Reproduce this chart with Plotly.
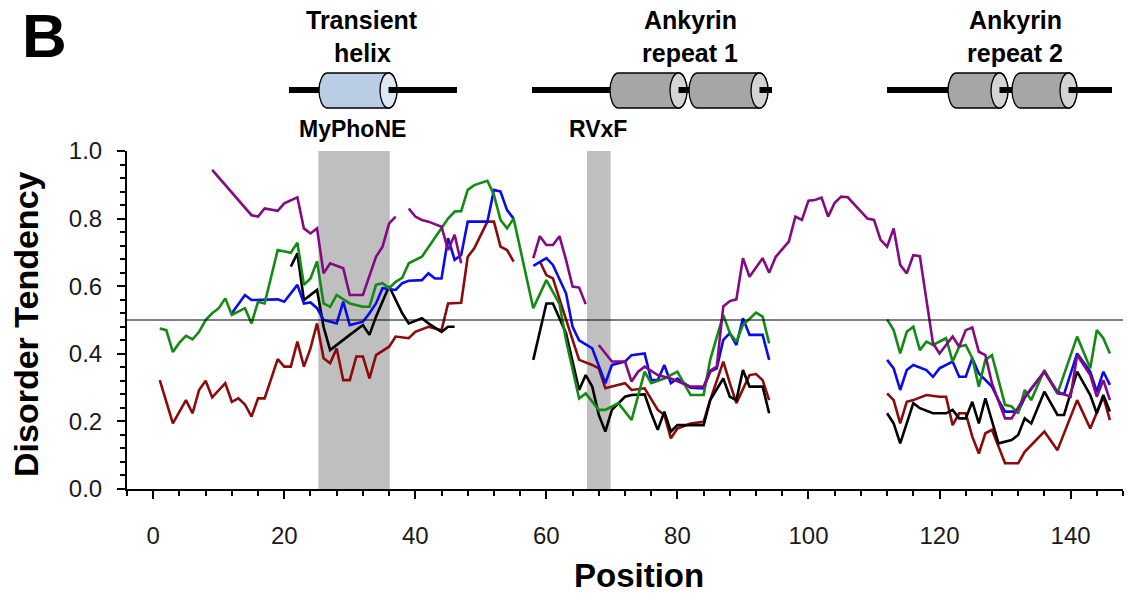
import plotly.graph_objects as go

# ---------------- data (position, disorder tendency), segments separated by gaps -------------
purple_pos = [
    [9, 15, 16, 17, 19, 20, 22, 23, 24, 25, 26, 27, 29, 30, 32, 34, 35, 36, 37],
    [39, 40, 41, 42, 44, 45, 46, 47],
    [58, 59, 60, 61, 62, 63, 64, 65, 66],
    [68, 70, 72, 73, 74, 75, 77, 79, 82, 84, 85, 86, 87, 88, 89, 90, 91, 93, 94, 95,
     97, 98, 99, 100, 101, 102, 103, 104, 105, 106, 109, 110, 111, 112, 113, 114, 115, 116, 117, 119,
     120, 122, 123, 124, 125, 126, 127, 128, 129, 130, 131, 133, 136, 138, 140, 141, 143, 144, 145, 146],
]
purple_val = [
    [.944, .81, .806, .83, .823, .845, .863, .771, .756, .771, .638, .668, .653, .574, .574, .687, .717, .786, .806],
    [.83, .806, .796, .791, .776, .707, .752, .668],
    [.683, .748, .722, .722, .748, .678, .599, .596, .547],
    [.426, .377, .377, .318, .347, .362, .337, .327, .303, .303, .35, .362, .54, .556, .561, .683, .628, .683, .64, .687,
     .732, .806, .796, .853, .855, .862, .806, .847, .865, .863, .8, .796, .737, .717, .771, .663, .638, .692, .689, .431,
     .401, .451, .421, .47, .478, .406, .396, .313, .26, .209, .209, .273, .347, .288, .273, .396, .337, .273, .322, .263],
]

green_pos = [
    [1, 2, 3, 4, 5, 6, 7, 8, 9, 10, 11, 12, 14, 15, 16, 17, 19, 21, 22, 23,
     24, 25, 26, 27, 28, 30, 32, 33, 34, 35, 36, 37, 38, 39, 41, 43, 45, 46, 47, 48,
     49, 51, 52, 53, 54, 55, 58, 60, 62, 63, 65, 66, 68, 69, 71, 73, 75, 76, 77, 78,
     80, 82, 84, 85, 87, 88, 89, 90, 92, 93, 94],
    [112, 113, 114, 115, 116, 117, 118, 119, 121, 122, 123, 124, 125, 126, 127, 128, 130, 131, 132, 133,
     134, 136, 138, 141, 143, 144, 145, 146],
]
green_val = [
    [.475, .47, .405, .433, .453, .443, .465, .5, .52, .535, .564, .515, .535, .49, .554, .549, .707, .699, .729, .604,
     .623, .673, .549, .539, .574, .549, .539, .539, .604, .609, .594, .613, .625, .668, .687, .742, .8, .821, .822, .885,
     .899, .912, .87, .796, .771, .8, .535, .618, .548, .44, .268, .283, .234, .234, .254, .204, .347, .313, .32, .327,
     .347, .278, .278, .382, .515, .461, .436, .485, .522, .51, .431],
    [.502, .47, .401, .465, .48, .411, .436, .426, .446, .377, .421, .426, .387, .303, .382, .396, .249, .244, .224, .293,
     .263, .352, .283, .451, .357, .47, .446, .401],
]

blue_pos = [
    [12, 14, 15, 17, 19, 20, 22, 23, 24, 25, 26, 28, 29, 30, 32, 33, 34, 35, 37, 38,
     39, 41, 42, 43, 44, 45, 46, 47, 48, 51, 52, 53, 54, 55],
    [58, 60, 61, 62, 63, 64, 65, 67, 68, 69, 70, 72, 73, 75, 76, 77, 78, 79, 80, 82,
     84, 85, 86, 87, 88, 89, 90, 91, 93, 94],
    [112, 113, 114, 115, 116, 118, 119, 120, 122, 123, 124, 125, 126, 128, 129, 130, 132, 133, 136, 138,
     139, 141, 143, 144, 145, 146],
]
blue_val = [
    [.52, .574, .559, .559, .561, .554, .604, .549, .552, .535, .5, .49, .554, .485, .495, .52, .549, .594, .589, .609,
     .616, .618, .638, .623, .623, .742, .678, .692, .791, .791, .885, .88, .825, .8],
    [.66, .683, .663, .623, .579, .48, .44, .416, .367, .313, .367, .377, .396, .401, .322, .322, .367, .313, .327, .3,
     .298, .347, .357, .441, .461, .426, .505, .456, .456, .382],
    [.382, .357, .293, .352, .367, .352, .332, .357, .377, .332, .332, .387, .342, .303, .263, .229, .229, .27, .347, .283,
     .28, .401, .347, .288, .347, .308],
]

black_pos = [
    [21, 22, 23, 24, 25, 26, 27, 30, 32, 33, 34, 36, 37, 38, 39, 41, 42, 44, 45, 46],
    [58, 60, 61, 63, 65, 66, 67, 68, 69, 70, 72, 73, 75, 76, 77, 78, 79, 80, 84, 85,
     87, 88, 89, 90, 91, 93, 94],
    [112, 113, 114, 116, 117, 119, 121, 122, 123, 124, 125, 126, 127, 128, 129, 131, 132, 133, 134, 136,
     138, 139, 141, 143, 144, 145, 146],
]
black_val = [
    [.658, .697, .559, .574, .589, .48, .411, .456, .485, .456, .51, .6, .56, .52, .49, .505, .49, .465, .48, .48],
    [.382, .549, .549, .461, .293, .337, .303, .219, .17, .234, .273, .278, .28, .224, .175, .229, .17, .189, .189, .263,
     .327, .273, .263, .352, .303, .303, .224],
    [.224, .194, .135, .254, .239, .224, .224, .234, .209, .209, .258, .194, .268, .204, .135, .145, .16, .209, .194, .288,
     .219, .219, .347, .278, .224, .278, .229],
]

red_pos = [
    [1, 3, 5, 6, 7, 8, 9, 11, 12, 13, 14, 15, 16, 17, 19, 20, 21, 22, 23, 24,
     25, 26, 27, 28, 29, 30, 31, 32, 33, 34, 36, 37, 39, 40, 42, 44, 45, 47, 48, 49,
     51, 52, 53, 54, 55],
    [59, 60, 61, 62, 63, 64, 65, 67, 68, 69, 70, 72, 73, 75, 77, 78, 79, 80, 82, 84,
     85, 87, 88, 89, 91, 92, 93, 94],
    [112, 113, 114, 115, 116, 118, 120, 121, 122, 123, 124, 125, 126, 127, 128, 129, 130, 132, 133, 136,
     138, 141, 143, 145, 146],
]
red_val = [
    [.322, .194, .263, .224, .293, .32, .271, .313, .258, .268, .25, .214, .268, .268, .384, .362, .362, .436, .362, .416,
     .49, .387, .372, .416, .322, .322, .392, .392, .327, .396, .421, .451, .446, .465, .48, .47, .549, .551, .687, .712,
     .791, .791, .717, .707, .673],
    [.673, .633, .623, .56, .5, .441, .382, .367, .357, .298, .303, .313, .293, .298, .234, .219, .15, .179, .194, .199,
     .263, .377, .313, .254, .337, .34, .322, .263],
    [.283, .263, .194, .258, .263, .278, .273, .273, .189, .224, .224, .155, .105, .165, .175, .125, .076, .076, .11, .17,
     .115, .263, .179, .273, .204],
]

regions = [(25.2, 36.1), (66.2, 69.8)]           # shaded motif regions (MyPhoNE, RVxF)
threshold = 0.5
x_ticks = [0, 20, 40, 60, 80, 100, 120, 140]
y_ticks = [0.0, 0.2, 0.4, 0.6, 0.8, 1.0]

FONT = "Liberation Sans, Arial, Helvetica, sans-serif"

# ---------------- layout geometry (pixels) ----------------
W, H = 1133, 598
PL, PR, PT, PB = 127, 1123, 151, 489


def fx(px):
    return (px - PL) / (PR - PL)


def fy(py):
    return (PB - py) / (PB - PT)


def join(pos, val):
    xs, ys = [], []
    for p, v in zip(pos, val):
        assert len(p) == len(v), (len(p), len(v))
        if xs:
            xs.append(None)
            ys.append(None)
        xs.extend(p)
        ys.extend(v)
    return xs, ys


fig = go.Figure()

series = [
    (red_pos, red_val, "#8b0a0a"),
    (black_pos, black_val, "#000000"),
    (blue_pos, blue_val, "#0a0aee"),
    (green_pos, green_val, "#138a13"),
    (purple_pos, purple_val, "#840a84"),
]
for pos, val, col in series:
    xs, ys = join(pos, val)
    fig.add_trace(go.Scatter(x=xs, y=ys, mode="lines", connectgaps=False,
                             line=dict(color=col, width=2.6), hoverinfo="skip"))

shapes = []
for a, b in regions:
    shapes.append(dict(type="rect", xref="x", yref="paper", x0=a, x1=b, y0=0, y1=1,
                       fillcolor="#bfbfbf", line=dict(width=0), layer="below"))
shapes.append(dict(type="line", xref="paper", yref="y", x0=0, x1=1, y0=threshold, y1=threshold,
                   line=dict(color="black", width=1.2)))

# ---------------- domain diagram (cylinders) ----------------
K = 0.5523


def cyl_paths(xl, xr, yt, yb, rx):
    yc = (yt + yb) / 2
    ry = (yb - yt) / 2
    cl = xl + rx
    cr = xr - rx
    P = lambda x, y: f"{fx(x):.5f},{fy(y):.5f}"
    body = (f"M {P(cl, yt)} L {P(cr, yt)} "
            f"C {P(cr + K*rx, yt)} {P(cr + rx, yc - K*ry)} {P(cr + rx, yc)} "
            f"C {P(cr + rx, yc + K*ry)} {P(cr + K*rx, yb)} {P(cr, yb)} "
            f"L {P(cl, yb)} "
            f"C {P(cl - K*rx, yb)} {P(cl - rx, yc + K*ry)} {P(cl - rx, yc)} "
            f"C {P(cl - rx, yc - K*ry)} {P(cl - K*rx, yt)} {P(cl, yt)} Z")
    face = (f"M {P(cr, yt)} "
            f"C {P(cr + K*rx, yt)} {P(cr + rx, yc - K*ry)} {P(cr + rx, yc)} "
            f"C {P(cr + rx, yc + K*ry)} {P(cr + K*rx, yb)} {P(cr, yb)} "
            f"C {P(cr - K*rx, yb)} {P(cr - rx, yc + K*ry)} {P(cr - rx, yc)} "
            f"C {P(cr - rx, yc - K*ry)} {P(cr - K*rx, yt)} {P(cr, yt)} Z")
    return body, face, cr


def bar(x0, x1, y=90):
    shapes.append(dict(type="line", xref="paper", yref="paper", x0=fx(x0), x1=fx(x1),
                       y0=fy(y), y1=fy(y), line=dict(color="black", width=6)))


def cylinder(xl, xr, body_col, face_col, yt=73, yb=108, rx=8.5):
    body, face, cr = cyl_paths(xl, xr, yt, yb, rx)
    shapes.append(dict(type="path", xref="paper", yref="paper", path=body,
                       fillcolor=body_col, line=dict(color="black", width=1.3)))
    shapes.append(dict(type="path", xref="paper", yref="paper", path=face,
                       fillcolor=face_col, line=dict(color="black", width=1.3)))
    return cr


BLUE_B, BLUE_F = "#b9cde5", "#dde7f3"
GRAY_B, GRAY_F = "#a6a6a6", "#d4d4d4"

# transient helix
bar(289, 320)
c = cylinder(319, 397, BLUE_B, BLUE_F)
bar(c, 457)
# ankyrin repeat 1
bar(532, 612)
c = cylinder(610, 687, GRAY_B, GRAY_F)
bar(c, 692)
c = cylinder(689, 768, GRAY_B, GRAY_F)
bar(c, 772)
# ankyrin repeat 2
bar(887, 950)
c = cylinder(948, 1008, GRAY_B, GRAY_F)
bar(c, 1014)
c = cylinder(1012, 1077, GRAY_B, GRAY_F)
bar(c, 1112)

annotations = []


def label(text, px, py, size, **kw):
    annotations.append(dict(text=text, x=fx(px), y=fy(py), xref="paper", yref="paper",
                            xanchor="center", yanchor="middle", showarrow=False,
                            font=dict(family=FONT, size=size, color="black"), **kw))


label("<b>B</b>", 44, 35, 62)
label("<b>Transient</b>", 362, 20, 25)
label("<b>helix</b>", 362, 53, 25)
label("<b>MyPhoNE</b>", 352, 129, 23)
label("<b>Ankyrin</b>", 690, 20, 25)
label("<b>repeat 1</b>", 690, 53, 25)
label("<b>RVxF</b>", 598, 129, 23)
label("<b>Ankyrin</b>", 1015, 20, 25)
label("<b>repeat 2</b>", 1015, 53, 25)
label("<b>Disorder Tendency</b>", 26, 324, 34, textangle=-90)
label("<b>Position</b>", 639, 575, 33)

axis_common = dict(showline=True, linecolor="black", linewidth=2, ticks="outside",
                   tickcolor="black", tickwidth=2, ticklen=8, showgrid=False, zeroline=False,
                   tickfont=dict(family=FONT, size=24, color="#1a1a1a"))

fig.update_layout(
    width=W, height=H,
    margin=dict(l=PL, r=W - PR, t=PT, b=H - PB, pad=0),
    plot_bgcolor="white", paper_bgcolor="white",
    showlegend=False,
    shapes=shapes, annotations=annotations,
    xaxis=dict(range=[-4, 148], tickmode="array", tickvals=x_ticks,
               ticktext=[str(t) for t in x_ticks], ticklabelstandoff=16,
               minor=dict(dtick=4, tick0=0, ticks="outside", ticklen=5, tickwidth=1.5, tickcolor="black"),
               **axis_common),
    yaxis=dict(range=[0, 1], tickmode="array", tickvals=y_ticks,
               ticktext=[f"{t:.1f}" for t in y_ticks], ticklabelstandoff=10,
               minor=dict(dtick=0.04, tick0=0, ticks="outside", ticklen=5, tickwidth=1.5, tickcolor="black"),
               **axis_common),
)

fig.write_html("out.html")
